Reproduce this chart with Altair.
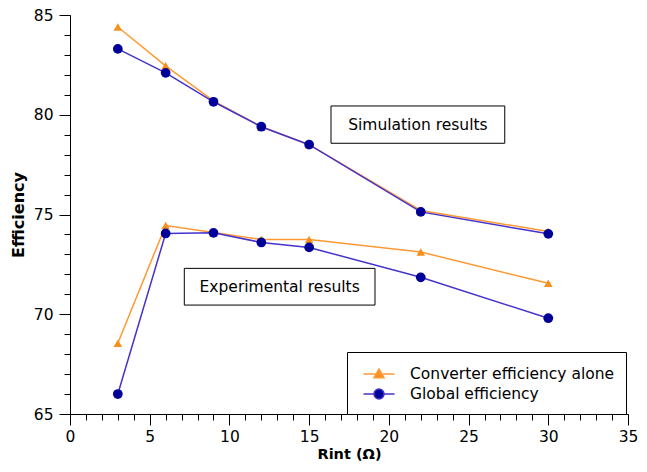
import altair as alt
import pandas as pd

# ---- data ----
rint = [3, 6, 9, 12, 15, 22, 30]
sim_converter = [84.4, 82.45, 80.7, 79.4, 78.5, 75.2, 74.15]
sim_global = [83.3, 82.1, 80.65, 79.4, 78.5, 75.13, 74.03]
exp_converter = [68.55, 74.45, 74.1, 73.75, 73.75, 73.12, 71.55]
exp_global = [66.0, 74.05, 74.08, 73.6, 73.35, 71.85, 69.8]

series_names = ["Converter efficiency alone", "Global efficiency"]
line_colors = ["#FF9933", "#4433CC"]
marker_colors = ["#F5901E", "#000099"]

ann_text = ["Simulation results", "Experimental results"]
ann_x1 = [16.37, 7.17]
ann_x2 = [27.27, 19.13]
ann_y1 = [80.44, 72.30]
ann_y2 = [78.57, 70.46]

x_major = [0, 5, 10, 15, 20, 25, 30, 35]
y_major = [65, 70, 75, 80, 85]
x_minor = list(range(0, 36))
y_minor = list(range(65, 86))

FONT = "DejaVu Sans"

rows = []
for grp, series, vals in [
    ("sim", series_names[0], sim_converter),
    ("sim", series_names[1], sim_global),
    ("exp", series_names[0], exp_converter),
    ("exp", series_names[1], exp_global),
]:
    for xv, yv in zip(rint, vals):
        rows.append({"rint": xv, "eff": yv, "series": series, "group": grp + series})
df = pd.DataFrame(rows)

ann = pd.DataFrame({
    "text": ann_text,
    "x1": ann_x1, "x2": ann_x2, "y1": ann_y1, "y2": ann_y2,
})
ann["xc"] = (ann["x1"] + ann["x2"]) / 2
ann["yc"] = (ann["y1"] + ann["y2"]) / 2

xscale = alt.Scale(domain=[0, 35], nice=False, zero=False)
yscale = alt.Scale(domain=[65, 85], nice=False, zero=False)

legend = alt.Legend(
    orient="none", legendX=277, legendY=337, title=None,
    strokeColor="black", fillColor="white", padding=11,
    symbolOffset=10, labelOffset=20, rowPadding=0,
    symbolSize=400, symbolStrokeWidth=1.5, symbolOpacity=1,
    labelFont=FONT, labelFontSize=15.5, labelColor="black", labelLimit=400,
    cornerRadius=0,
)

major_x_axis = alt.Axis(values=x_major, tickSize=11, labelPadding=4, domainColor="black",
                        tickColor="black", labelFont=FONT, labelFontSize=15.5, labelColor="black",
                        labelFlush=False, labelOverlap=False,
                        title="Rint (Ω)", titleFont=FONT, titleFontSize=14.5, titleFontWeight="bold",
                        titleColor="black", titlePadding=3, grid=False, orient="bottom", format="d")
major_y_axis = alt.Axis(values=y_major, tickSize=11, labelPadding=6, domainColor="black",
                        tickColor="black", labelFont=FONT, labelFontSize=15.5, labelColor="black",
                        labelFlush=False, labelOverlap=False,
                        title="Efficiency", titleFont=FONT, titleFontSize=16, titleFontWeight="bold",
                        titleColor="black", titlePadding=7, grid=False, orient="left", format="d")
minor_x_axis = alt.Axis(values=x_minor, tickSize=6, labels=False, domain=False, title=None,
                        tickColor="black", grid=False, orient="bottom")
minor_y_axis = alt.Axis(values=y_minor, tickSize=6, labels=False, domain=False, title=None,
                        tickColor="black", grid=False, orient="left")

stroke_scale = alt.Scale(domain=series_names, range=line_colors)
fill_scale = alt.Scale(domain=series_names, range=marker_colors)

lines = alt.Chart(df).mark_line(strokeWidth=1.5).encode(
    x=alt.X("rint:Q", scale=xscale, axis=major_x_axis),
    y=alt.Y("eff:Q", scale=yscale, axis=major_y_axis),
    stroke=alt.Stroke("series:N", scale=stroke_scale, legend=legend),
    detail="group:N",
    order="rint:Q",
)

tri = alt.Chart(df).transform_filter(alt.datum.series == series_names[0]).mark_point(
    filled=True, shape="triangle-up", size=75, opacity=1, color=marker_colors[0]
).encode(
    x=alt.X("rint:Q", scale=xscale, axis=None),
    y=alt.Y("eff:Q", scale=yscale, axis=None),
)

circ = alt.Chart(df).transform_filter(alt.datum.series == series_names[1]).mark_point(
    filled=True, shape="circle", size=95, opacity=1, color=marker_colors[1]
).encode(
    x=alt.X("rint:Q", scale=xscale, axis=None),
    y=alt.Y("eff:Q", scale=yscale, axis=None),
)

legend_shapes = [
    "M-1.55,0H1.55M0,-0.5L0.5,0.38L-0.5,0.38Z",
    "M-1.55,0H-0.5A0.5,0.5 0 1 1 0.5,0H1.55M0.5,0A0.5,0.5 0 1 1 -0.5,0",
]

legend_layer = alt.Chart(df).mark_point(filled=True, opacity=0).encode(
    x=alt.X("rint:Q", scale=xscale, axis=minor_x_axis),
    y=alt.Y("eff:Q", scale=yscale, axis=minor_y_axis),
    stroke=alt.Stroke("series:N", scale=stroke_scale, legend=legend),
    fill=alt.Fill("series:N", scale=fill_scale, legend=legend),
    shape=alt.Shape("series:N", scale=alt.Scale(domain=series_names, range=legend_shapes), legend=legend),
)

boxes = alt.Chart(ann).mark_rect(fill="white", stroke="black", strokeWidth=1).encode(
    x=alt.X("x1:Q", scale=xscale, axis=None),
    x2="x2:Q",
    y=alt.Y("y1:Q", scale=yscale, axis=None),
    y2="y2:Q",
)

texts = alt.Chart(ann).mark_text(font=FONT, fontSize=15.5, color="black").encode(
    x=alt.X("xc:Q", scale=xscale, axis=None),
    y=alt.Y("yc:Q", scale=yscale, axis=None),
    text="text:N",
)

chart = alt.layer(boxes, texts, lines, tri, circ, legend_layer).resolve_axis(
    x="independent", y="independent"
).properties(
    width=558, height=399,
    autosize=alt.AutoSizeParams(type="none"),
    padding={"left": 62, "top": 7, "right": 11, "bottom": 50},
    background="white",
).configure_view(stroke=None)

chart.save("out.html", embed_options={"renderer": "svg", "actions": False})
